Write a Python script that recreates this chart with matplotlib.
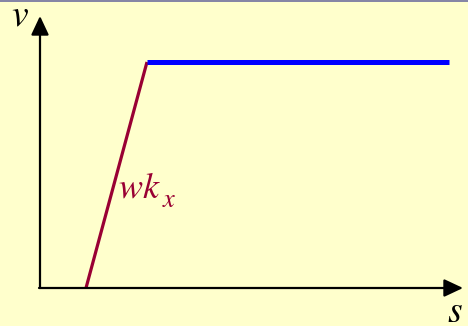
import matplotlib.pyplot as plt
from matplotlib.lines import Line2D

# STIX ships with matplotlib and looks like Times italic
plt.rcParams['mathtext.fontset'] = 'stix'

# piecewise curve v(s): ramp then plateau
ramp_s = [0.46, 1.07]
ramp_v = [0.0, 2.26]
flat_s = [1.07, 4.09]
flat_v = [2.26, 2.26]

bg = '#FFFFCC'
maroon = '#990033'

fig = plt.figure(figsize=(4.68, 3.26), dpi=100, facecolor=bg)
ax = fig.add_axes([0, 0, 1, 1])
ax.set_facecolor(bg)
ax.set_xlim(-0.40, 4.28)
ax.set_ylim(-0.38, 2.88)
ax.axis('off')

# axes with arrows
arrow = dict(arrowstyle='-|>,head_length=1.15,head_width=0.54', mutation_scale=10,
             lw=1.6, color='black', shrinkA=0, shrinkB=0)
ax.annotate('', xy=(0, 2.72), xytext=(0, 0), arrowprops=arrow)
ax.annotate('', xy=(4.23, 0), xytext=(-0.01, 0), arrowprops=arrow)

ax.plot(ramp_s, ramp_v, color=maroon, lw=2.3, solid_capstyle='butt')
ax.plot(flat_s, flat_v, color='#0000FF', lw=3.6, solid_capstyle='butt')

ax.text(-0.20, 2.62, r'$v$', fontsize=27, ha='center', va='baseline')
ax.text(4.15, -0.34, r'$s$', fontsize=27, ha='center', va='baseline')
ax.text(0.78, 0.91, r'$wk$', fontsize=26, color=maroon, ha='left', va='baseline')
ax.text(1.22, 0.81, r'$x$', fontsize=19, color=maroon, ha='left', va='baseline')

# thin border line on top
fig.add_artist(Line2D([0, 1], [0.998, 0.998], transform=fig.transFigure,
                      color='#6E6E9E', lw=1.2))

fig.savefig('out.png', dpi=100, facecolor=bg)
